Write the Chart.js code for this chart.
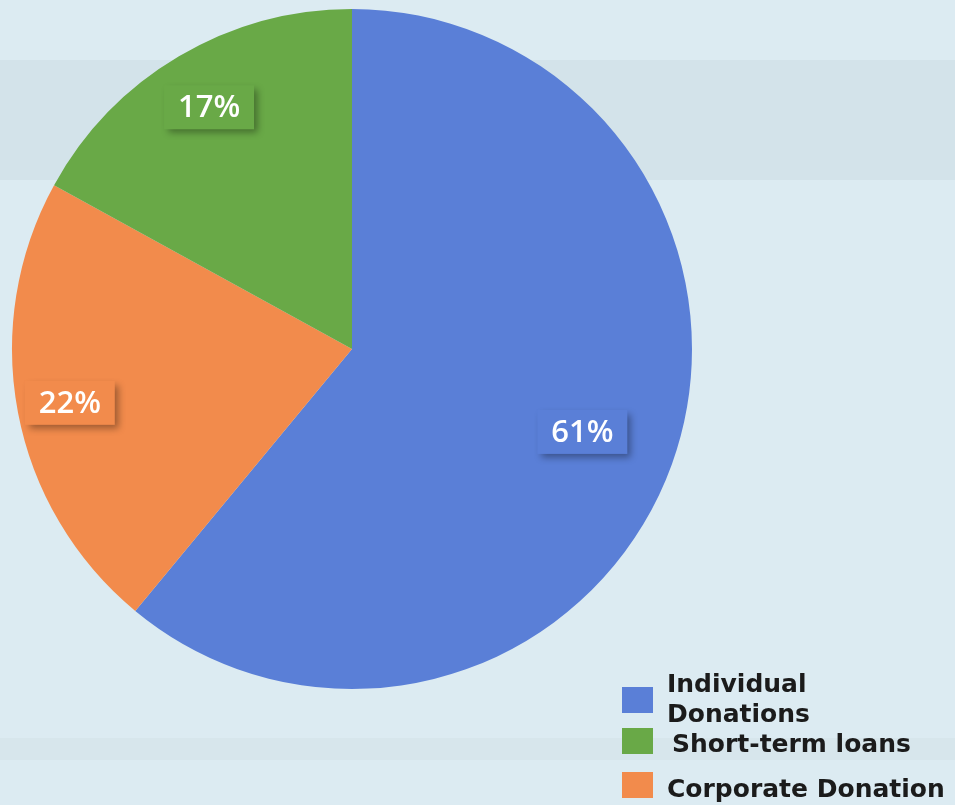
<!DOCTYPE html>
<html>
<head>
<meta charset="utf-8">
<script src="https://cdn.jsdelivr.net/npm/chart.js@4.4.1/dist/chart.umd.min.js"></script>
<style>
    html, body { margin: 0; padding: 0; background: #dcebf2; }
    #wrap { width: 955px; height: 805px; position: relative; }
</style>
</head>
<body>
<div id="wrap"><canvas id="pie"></canvas></div>
<script>
// Funding sources
var categories = ['Individual Donations', 'Corporate Donation', 'Short-term loans'];
var legendText = [['Individual', 'Donations'], ['Corporate Donation'], ['Short-term loans']];
var shares = [61, 22, 17];
var sliceColors = ['#5a7fd7', '#f28b4c', '#69a947'];
var legendOrder = [0, 2, 1];

// Scanned page background with a couple of faint bands
var backgroundPlugin = {
    id: 'pageBackground',
    beforeDraw: function(chart) {
        var ctx = chart.ctx;
        ctx.save();
        ctx.fillStyle = '#dcebf2';
        ctx.fillRect(0, 0, chart.width, chart.height);
        ctx.fillStyle = 'rgba(150, 165, 175, 0.11)';
        ctx.fillRect(0, 60, chart.width, 120);
        ctx.fillStyle = 'rgba(150, 165, 175, 0.07)';
        ctx.fillRect(0, 738, chart.width, 22);
        ctx.restore();
    }
};

// Percentage boxes with a drop shadow
var boxLabelPlugin = {
    id: 'boxLabels',
    afterDatasetsDraw: function(chart, args, opts) {
        var ctx = chart.ctx;
        var meta = chart.getDatasetMeta(0);
        var data = chart.data.datasets[0].data;
        var total = data.reduce(function(a, b) { return a + b; }, 0);
        meta.data.forEach(function(arc, i) {
            var mid = (arc.startAngle + arc.endAngle) / 2;
            var r = arc.outerRadius * opts.radius[i];
            var x = arc.x + Math.cos(mid) * r;
            var y = arc.y + Math.sin(mid) * r;
            var text = Math.round(data[i] / total * 100) + '%';
            var w = 90, h = 44;
            ctx.save();
            ctx.shadowColor = 'rgba(0, 0, 0, 0.35)';
            ctx.shadowBlur = 7;
            ctx.shadowOffsetX = 4;
            ctx.shadowOffsetY = 4;
            ctx.fillStyle = sliceColors[i];
            ctx.fillRect(x - w / 2, y - h / 2, w, h);
            ctx.restore();
            ctx.save();
            ctx.fillStyle = '#ffffff';
            ctx.font = '600 31px "Open Sans"';
            ctx.textAlign = 'center';
            ctx.textBaseline = 'middle';
            ctx.fillText(text, x, y + 1);
            ctx.restore();
        });
    }
};

// Legend drawn at the bottom right
var legendPlugin = {
    id: 'cornerLegend',
    afterDraw: function(chart) {
        var ctx = chart.ctx;
        var rows = [
            { box: 687, lines: [692, 722] },
            { box: 728, lines: [752] },
            { box: 772, lines: [797] }
        ];
        ctx.save();
        ctx.font = 'bold 25px "DejaVu Sans"';
        ctx.textBaseline = 'alphabetic';
        legendOrder.forEach(function(idx, n) {
            var row = rows[n];
            ctx.fillStyle = sliceColors[idx];
            ctx.fillRect(622, row.box, 31, 26);
            ctx.fillStyle = '#1b1b1b';
            legendText[idx].forEach(function(line, k) {
                ctx.fillText(line, idx === 2 ? 672 : 667, row.lines[k]);
            });
        });
        ctx.restore();
    }
};

new Chart(document.getElementById('pie'), {
    type: 'pie',
    data: {
        labels: categories,
        datasets: [{
            data: shares,
            backgroundColor: sliceColors,
            borderWidth: 0
        }]
    },
    options: {
        responsive: true,
        maintainAspectRatio: false,
        animation: false,
        layout: { padding: { left: 12, top: 9, right: 263, bottom: 116 } },
        plugins: {
            legend: { display: false },
            tooltip: { enabled: false },
            boxLabels: { radius: [0.72, 0.845, 0.826] }
        }
    },
    plugins: [backgroundPlugin, boxLabelPlugin, legendPlugin]
});
</script>
</body>
</html>
